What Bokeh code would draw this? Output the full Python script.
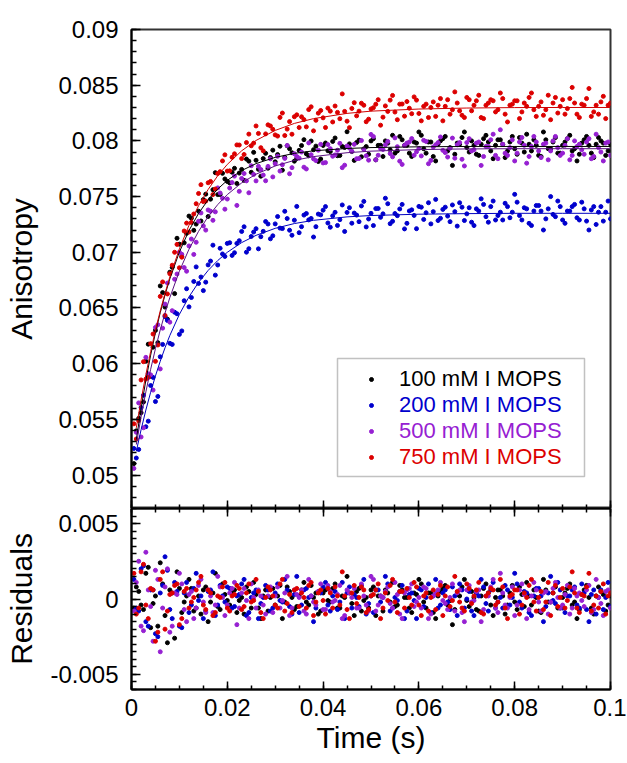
from bokeh.plotting import figure
from bokeh.layouts import column
from bokeh.models import (Range1d, FixedTicker, CustomJSTickFormatter, LinearAxis,
                          Legend, LegendItem, BoxAnnotation)
from bokeh.embed import file_html
from bokeh.resources import INLINE

# ---------------- data ----------------
# samples on whole milliseconds
time_s = [0.001, 0.002, 0.003, 0.004, 0.005, 0.006, 0.007, 0.008, 0.009, 0.010,
          0.011, 0.012, 0.013, 0.014, 0.015, 0.016, 0.017, 0.018, 0.019, 0.020,
          0.021, 0.022, 0.023, 0.024, 0.025, 0.026, 0.027, 0.028, 0.029, 0.030,
          0.031, 0.032, 0.033, 0.034, 0.035, 0.036, 0.037, 0.038, 0.039, 0.040,
          0.041, 0.042, 0.043, 0.044, 0.045, 0.046, 0.047, 0.048, 0.049, 0.050,
          0.051, 0.052, 0.053, 0.054, 0.055, 0.056, 0.057, 0.058, 0.059, 0.060,
          0.061, 0.062, 0.063, 0.064, 0.065, 0.066, 0.067, 0.068, 0.069, 0.070,
          0.071, 0.072, 0.073, 0.074, 0.075, 0.076, 0.077, 0.078, 0.079, 0.080,
          0.081, 0.082, 0.083, 0.084, 0.085, 0.086, 0.087, 0.088, 0.089, 0.090,
          0.091, 0.092, 0.093, 0.094, 0.095, 0.096, 0.097, 0.098, 0.099, 0.100]
# samples on half milliseconds
time_b = [0.0005, 0.0015, 0.0025, 0.0035, 0.0045, 0.0055, 0.0065, 0.0075, 0.0085, 0.0095,
          0.0105, 0.0115, 0.0125, 0.0135, 0.0145, 0.0155, 0.0165, 0.0175, 0.0185, 0.0195,
          0.0205, 0.0215, 0.0225, 0.0235, 0.0245, 0.0255, 0.0265, 0.0275, 0.0285, 0.0295,
          0.0305, 0.0315, 0.0325, 0.0335, 0.0345, 0.0355, 0.0365, 0.0375, 0.0385, 0.0395,
          0.0405, 0.0415, 0.0425, 0.0435, 0.0445, 0.0455, 0.0465, 0.0475, 0.0485, 0.0495,
          0.0505, 0.0515, 0.0525, 0.0535, 0.0545, 0.0555, 0.0565, 0.0575, 0.0585, 0.0595,
          0.0605, 0.0615, 0.0625, 0.0635, 0.0645, 0.0655, 0.0665, 0.0675, 0.0685, 0.0695,
          0.0705, 0.0715, 0.0725, 0.0735, 0.0745, 0.0755, 0.0765, 0.0775, 0.0785, 0.0795,
          0.0805, 0.0815, 0.0825, 0.0835, 0.0845, 0.0855, 0.0865, 0.0875, 0.0885, 0.0895,
          0.0905, 0.0915, 0.0925, 0.0935, 0.0945, 0.0955, 0.0965, 0.0975, 0.0985, 0.0995]

aniso_100 = [0.05397, 0.05560, 0.06022, 0.05887, 0.06299, 0.06698, 0.06508, 0.06821, 0.06629, 0.07073,
             0.07085, 0.07325, 0.07197, 0.07369, 0.07473, 0.07321, 0.07562, 0.07518, 0.07709, 0.07636,
             0.07719, 0.07618, 0.07744, 0.07837, 0.07718, 0.07826, 0.07683, 0.07888, 0.07851, 0.07812,
             0.07952, 0.07852, 0.07930, 0.07818, 0.07915, 0.08011, 0.07866, 0.07921, 0.07815, 0.07959,
             0.07912, 0.07995, 0.07867, 0.07950, 0.08082, 0.07904, 0.07986, 0.07857, 0.07949, 0.08000,
             0.07830, 0.07960, 0.08000, 0.07920, 0.07890, 0.08040, 0.07960, 0.07890, 0.07990, 0.08080,
             0.07930, 0.07990, 0.07860, 0.07970, 0.08020, 0.07910, 0.07780, 0.07980, 0.08030, 0.07940,
             0.08000, 0.07880, 0.07970, 0.08050, 0.07910, 0.07960, 0.08010, 0.07850, 0.07990, 0.07930,
             0.08030, 0.07900, 0.07970, 0.08010, 0.07870, 0.08080, 0.07930, 0.07990, 0.07890, 0.07960,
             0.08020, 0.07910, 0.07820, 0.07980, 0.08040, 0.07890, 0.07970, 0.08000, 0.07870, 0.07970]
aniso_100_b = [0.05103, 0.05509, 0.05656, 0.06175, 0.06148, 0.06189, 0.06638, 0.06400, 0.06865, 0.07126,
               0.06964, 0.07170, 0.07306, 0.07253, 0.07281, 0.07522, 0.07477, 0.07715, 0.07519, 0.07658,
               0.07623, 0.07754, 0.07711, 0.07646, 0.07818, 0.07897, 0.07745, 0.07841, 0.07755, 0.07917,
               0.07877, 0.07737, 0.07956, 0.07894, 0.07842, 0.07958, 0.07884, 0.07999, 0.07953, 0.07837,
               0.07981, 0.07904, 0.08026, 0.07869, 0.07941, 0.07973, 0.07825, 0.08007, 0.07928, 0.07880,
               0.08020, 0.07960, 0.07860, 0.07980, 0.08050, 0.07910, 0.08010, 0.07960, 0.07860, 0.07980,
               0.08050, 0.07890, 0.07990, 0.07820, 0.08000, 0.08040, 0.07940, 0.07880, 0.07970, 0.08080,
               0.07900, 0.07960, 0.07870, 0.08020, 0.07990, 0.07840, 0.08010, 0.07970, 0.07910, 0.08040,
               0.07880, 0.07980, 0.08060, 0.07910, 0.07960, 0.07860, 0.08010, 0.07930, 0.08030, 0.07890,
               0.07990, 0.08050, 0.07930, 0.07880, 0.08010, 0.07960, 0.07850, 0.08030, 0.07980, 0.07910]

aniso_200 = [0.05153, 0.05607, 0.05434, 0.05804, 0.05660, 0.06062, 0.06423, 0.06183, 0.06462, 0.06263,
             0.06565, 0.06510, 0.06738, 0.06720, 0.06656, 0.06887, 0.07064, 0.06886, 0.06985, 0.07080,
             0.06972, 0.07080, 0.07187, 0.07001, 0.07142, 0.07212, 0.07140, 0.07276, 0.07121, 0.07255,
             0.07217, 0.07368, 0.07198, 0.07288, 0.07176, 0.07334, 0.07291, 0.07137, 0.07343, 0.07378,
             0.07263, 0.07327, 0.07241, 0.07425, 0.07358, 0.07261, 0.07334, 0.07416, 0.07228, 0.07350,
             0.07392, 0.07314, 0.07485, 0.07257, 0.07348, 0.07389, 0.07210, 0.07371, 0.07331, 0.07412,
             0.07295, 0.07445, 0.07365, 0.07285, 0.07385, 0.07325, 0.07425, 0.07235, 0.07405, 0.07345,
             0.07270, 0.07390, 0.07480, 0.07320, 0.07410, 0.07290, 0.07360, 0.07440, 0.07310, 0.07520,
             0.07330, 0.07400, 0.07260, 0.07370, 0.07420, 0.07200, 0.07390, 0.07340, 0.07460, 0.07290,
             0.07370, 0.07410, 0.07310, 0.07450, 0.07280, 0.07380, 0.07250, 0.07410, 0.07360, 0.07300]
aniso_200_b = [0.05239, 0.05230, 0.05716, 0.05484, 0.05877, 0.05706, 0.06173, 0.06388, 0.06173, 0.06448,
               0.06294, 0.06673, 0.06594, 0.06869, 0.06778, 0.06732, 0.06921, 0.06795, 0.07036, 0.06963,
               0.07086, 0.06996, 0.07104, 0.07229, 0.07032, 0.07182, 0.07031, 0.07188, 0.07254, 0.07148,
               0.07321, 0.07213, 0.07303, 0.07153, 0.07412, 0.07230, 0.07348, 0.07304, 0.07230, 0.07336,
               0.07410, 0.07225, 0.07359, 0.07293, 0.07187, 0.07400, 0.07352, 0.07275, 0.07457, 0.07299,
               0.07240, 0.07393, 0.07345, 0.07436, 0.07278, 0.07329, 0.07430, 0.07260, 0.07381, 0.07212,
               0.07405, 0.07355, 0.07255, 0.07475, 0.07305, 0.07405, 0.07275, 0.07365, 0.07445, 0.07285,
               0.07400, 0.07240, 0.07370, 0.07430, 0.07270, 0.07460, 0.07330, 0.07290, 0.07410, 0.07360,
               0.07450, 0.07290, 0.07390, 0.07240, 0.07420, 0.07370, 0.07300, 0.07500, 0.07320, 0.07410,
               0.07260, 0.07370, 0.07430, 0.07290, 0.07390, 0.07200, 0.07410, 0.07360, 0.07280, 0.07460]

aniso_500 = [0.05384, 0.05342, 0.06057, 0.05900, 0.06325, 0.05953, 0.06535, 0.06373, 0.06758, 0.07001,
             0.06863, 0.07057, 0.06981, 0.07278, 0.07237, 0.07380, 0.07287, 0.07578, 0.07485, 0.07478,
             0.07626, 0.07421, 0.07663, 0.07641, 0.07777, 0.07641, 0.07743, 0.07642, 0.07839, 0.07795,
             0.07729, 0.07843, 0.07705, 0.07885, 0.07845, 0.07764, 0.07982, 0.07839, 0.07916, 0.07802,
             0.07967, 0.07862, 0.07916, 0.07760, 0.07954, 0.07907, 0.07840, 0.08003, 0.07866, 0.08058,
             0.07830, 0.07932, 0.07964, 0.07886, 0.08027, 0.07818, 0.07959, 0.07990, 0.07871, 0.07932,
             0.08005, 0.07795, 0.07945, 0.07985, 0.07915, 0.07855, 0.08025, 0.07965, 0.07835, 0.07985,
             0.07910, 0.07980, 0.07780, 0.07950, 0.08010, 0.07870, 0.08100, 0.07890, 0.07940, 0.07820,
             0.07990, 0.07960, 0.07860, 0.08040, 0.07910, 0.07970, 0.07830, 0.08000, 0.07940, 0.07890,
             0.08020, 0.07870, 0.07950, 0.07920, 0.07990, 0.07840, 0.08060, 0.07900, 0.07980, 0.07870]
aniso_500_b = [0.05060, 0.05648, 0.05425, 0.05909, 0.05763, 0.06349, 0.06319, 0.06724, 0.06476, 0.06805,
               0.06982, 0.06830, 0.07119, 0.07090, 0.07353, 0.07199, 0.07369, 0.07363, 0.07532, 0.07387,
               0.07577, 0.07684, 0.07547, 0.07707, 0.07534, 0.07699, 0.07772, 0.07693, 0.07771, 0.07677,
               0.07862, 0.07786, 0.07959, 0.07760, 0.07860, 0.07900, 0.07748, 0.07876, 0.07823, 0.07969,
               0.07805, 0.07930, 0.07874, 0.07978, 0.07782, 0.07936, 0.07969, 0.07842, 0.07925, 0.07827,
               0.08039, 0.07871, 0.07923, 0.07995, 0.07857, 0.07948, 0.07789, 0.07980, 0.08021, 0.07902,
               0.07865, 0.07995, 0.07825, 0.07965, 0.08035, 0.07895, 0.07935, 0.07845, 0.07985, 0.07775,
               0.08020, 0.07920, 0.07990, 0.07860, 0.07950, 0.08060, 0.07840, 0.07970, 0.07870, 0.08010,
               0.07890, 0.08030, 0.07800, 0.07950, 0.07990, 0.07850, 0.07980, 0.07910, 0.08040, 0.07870,
               0.07960, 0.07830, 0.08000, 0.07970, 0.07880, 0.08020, 0.07860, 0.07940, 0.07820, 0.07990]

aniso_750 = [0.05324, 0.05854, 0.05862, 0.06180, 0.06021, 0.06604, 0.06433, 0.06808, 0.07000, 0.06861,
             0.07191, 0.07182, 0.07344, 0.07528, 0.07455, 0.07624, 0.07518, 0.07707, 0.07820, 0.07729,
             0.07853, 0.07964, 0.07841, 0.07985, 0.07956, 0.08134, 0.07939, 0.08063, 0.08134, 0.08054,
             0.08211, 0.08048, 0.08173, 0.08217, 0.08120, 0.08191, 0.08281, 0.08090, 0.08249, 0.08207,
             0.08294, 0.08170, 0.08256, 0.08422, 0.08177, 0.08291, 0.08225, 0.08338, 0.08172, 0.08287,
             0.08329, 0.08141, 0.08314, 0.08366, 0.08259, 0.08330, 0.08222, 0.08293, 0.08395, 0.08246,
             0.08310, 0.08210, 0.08350, 0.08320, 0.08180, 0.08370, 0.08280, 0.08340, 0.08230, 0.08390,
             0.08270, 0.08360, 0.08210, 0.08320, 0.08370, 0.08260, 0.08430, 0.08240, 0.08320, 0.08360,
             0.08200, 0.08340, 0.08390, 0.08280, 0.08310, 0.08230, 0.08410, 0.08340, 0.08250, 0.08370,
             0.08290, 0.08480, 0.08240, 0.08330, 0.08380, 0.08220, 0.08320, 0.08350, 0.08200, 0.08340]
aniso_750_b = [0.05460, 0.05489, 0.06018, 0.05876, 0.06266, 0.06168, 0.06734, 0.06626, 0.06884, 0.07071,
               0.06956, 0.07262, 0.07268, 0.07436, 0.07607, 0.07460, 0.07636, 0.07568, 0.07724, 0.07875,
               0.07731, 0.07884, 0.07963, 0.07878, 0.08061, 0.07980, 0.08067, 0.07911, 0.08144, 0.08104,
               0.08043, 0.08250, 0.08106, 0.08060, 0.08234, 0.08216, 0.08126, 0.08306, 0.08185, 0.08273,
               0.08120, 0.08267, 0.08313, 0.08199, 0.08265, 0.08119, 0.08343, 0.08267, 0.08320, 0.08195,
               0.08298, 0.08370, 0.08213, 0.08265, 0.08408, 0.08190, 0.08331, 0.08353, 0.08244, 0.08366,
               0.08180, 0.08330, 0.08300, 0.08220, 0.08380, 0.08310, 0.08240, 0.08440, 0.08270, 0.08210,
               0.08370, 0.08320, 0.08410, 0.08200, 0.08340, 0.08360, 0.08280, 0.08380, 0.08170, 0.08330,
               0.08360, 0.08260, 0.08310, 0.08430, 0.08220, 0.08350, 0.08280, 0.08190, 0.08390, 0.08310,
               0.08240, 0.08380, 0.08340, 0.08210, 0.08320, 0.08470, 0.08260, 0.08240, 0.08400, 0.08320]

fit_time = [0.001, 0.002, 0.003, 0.004, 0.005, 0.006, 0.007, 0.008, 0.010, 0.012, 0.014, 0.016, 0.018,
            0.020, 0.023, 0.026, 0.030, 0.034, 0.038, 0.045, 0.050, 0.060, 0.070, 0.080, 0.090, 0.100]
fit_100 = [0.05317, 0.05600, 0.05852, 0.06077, 0.06279, 0.06458, 0.06618, 0.06761, 0.07003, 0.07195,
           0.07349, 0.07471, 0.07568, 0.07646, 0.07734, 0.07796, 0.07852, 0.07888, 0.07911, 0.07932,
           0.07940, 0.07947, 0.07950, 0.07950, 0.07950, 0.07950]
fit_200 = [0.05213, 0.05407, 0.05584, 0.05744, 0.05890, 0.06022, 0.06143, 0.06253, 0.06443, 0.06600,
           0.06730, 0.06837, 0.06926, 0.07000, 0.07087, 0.07152, 0.07215, 0.07258, 0.07287, 0.07318,
           0.07330, 0.07342, 0.07347, 0.07350, 0.07350, 0.07350]
fit_500 = [0.05274, 0.05522, 0.05747, 0.05950, 0.06135, 0.06303, 0.06455, 0.06593, 0.06831, 0.07027,
           0.07188, 0.07320, 0.07428, 0.07518, 0.07623, 0.07701, 0.07775, 0.07825, 0.07859, 0.07894,
           0.07908, 0.07922, 0.07928, 0.07930, 0.07930, 0.07930]
fit_750 = [0.05424, 0.05674, 0.05902, 0.06110, 0.06301, 0.06474, 0.06633, 0.06778, 0.07031, 0.07242,
           0.07418, 0.07564, 0.07687, 0.07789, 0.07911, 0.08004, 0.08094, 0.08157, 0.08200, 0.08247,
           0.08267, 0.08286, 0.08295, 0.08299, 0.08300, 0.08300]

resid_100 = [0.0008, -0.0004, 0.0017, -0.0019, 0.0002, 0.0024, -0.0011, 0.0006, -0.0026, 0.0007,
             -0.0002, 0.0013, -0.0008, 0.0002, 0.0006, -0.0015, 0.0004, -0.0005, 0.0010, -0.0001,
             0.0004, -0.0009, 0.0001, 0.0008, -0.0006, 0.0003, -0.0013, 0.0006, 0.0001, -0.0004,
             0.0009, -0.0002, 0.0005, -0.0007, 0.0002, 0.0011, -0.0004, 0.0001, -0.0010, 0.0004,
             -0.0001, 0.0007, -0.0006, 0.0002, 0.0015, -0.0003, 0.0005, -0.0008, 0.0001, 0.0006,
             -0.0011, 0.0002, 0.0006, -0.0002, -0.0005, 0.0009, 0.0001, -0.0006, 0.0004, 0.0013,
             -0.0002, 0.0004, -0.0009, 0.0002, 0.0007, -0.0004, -0.0017, 0.0003, 0.0008, -0.0001,
             0.0005, -0.0007, 0.0002, 0.0010, -0.0004, 0.0001, 0.0006, -0.0010, 0.0004, -0.0002,
             0.0008, -0.0005, 0.0002, 0.0006, -0.0008, 0.0013, -0.0002, 0.0004, -0.0006, 0.0001,
             0.0007, -0.0004, -0.0013, 0.0003, 0.0009, -0.0006, 0.0002, 0.0005, -0.0008, 0.0002]
resid_100_b = [-0.0006, 0.0005, -0.0007, 0.0021, -0.0003, -0.0018, 0.0010, -0.0029, 0.0004, 0.0018,
               -0.0009, 0.0002, 0.0007, -0.0006, -0.0010, 0.0008, -0.0002, 0.0017, -0.0007, 0.0003,
               -0.0004, 0.0006, -0.0001, -0.0010, 0.0005, 0.0011, -0.0006, 0.0002, -0.0008, 0.0007,
               0.0002, -0.0013, 0.0008, 0.0001, -0.0005, 0.0006, -0.0002, 0.0009, 0.0004, -0.0008,
               0.0006, -0.0002, 0.0010, -0.0006, 0.0001, 0.0004, -0.0011, 0.0007, -0.0001, -0.0006,
               0.0008, 0.0002, -0.0008, 0.0004, 0.0011, -0.0004, 0.0006, 0.0001, -0.0009, 0.0003,
               0.0010, -0.0006, 0.0004, -0.0013, 0.0005, 0.0009, -0.0001, -0.0007, 0.0002, 0.0013,
               -0.0005, 0.0001, -0.0008, 0.0007, 0.0004, -0.0011, 0.0006, 0.0002, -0.0004, 0.0009,
               -0.0007, 0.0003, 0.0011, -0.0004, 0.0001, -0.0009, 0.0006, -0.0002, 0.0008, -0.0006,
               0.0004, 0.0010, -0.0002, -0.0007, 0.0006, 0.0001, -0.0010, 0.0008, 0.0003, -0.0004]
resid_200 = [-0.0006, 0.0020, -0.0015, 0.0006, -0.0023, 0.0004, 0.0028, -0.0007, 0.0011, -0.0018,
             0.0004, -0.0009, 0.0007, -0.0001, -0.0013, 0.0005, 0.0018, -0.0004, 0.0002, 0.0008,
             -0.0006, 0.0002, 0.0010, -0.0011, 0.0001, 0.0006, -0.0003, 0.0009, -0.0008, 0.0004,
             -0.0001, 0.0013, -0.0005, 0.0003, -0.0009, 0.0006, 0.0001, -0.0015, 0.0005, 0.0008,
             -0.0004, 0.0002, -0.0007, 0.0011, 0.0004, -0.0006, 0.0001, 0.0009, -0.0010, 0.0002,
             0.0006, -0.0002, 0.0015, -0.0008, 0.0001, 0.0005, -0.0013, 0.0003, -0.0001, 0.0007,
             -0.0005, 0.0010, 0.0002, -0.0006, 0.0004, -0.0002, 0.0008, -0.0011, 0.0006, 0.0000,
             -0.0008, 0.0004, 0.0013, -0.0003, 0.0006, -0.0006, 0.0001, 0.0009, -0.0004, 0.0017,
             -0.0002, 0.0005, -0.0009, 0.0002, 0.0007, -0.0015, 0.0004, -0.0001, 0.0011, -0.0006,
             0.0002, 0.0006, -0.0004, 0.0010, -0.0007, 0.0003, -0.0010, 0.0006, 0.0001, -0.0005]
resid_200_b = [0.0013, -0.0008, 0.0022, -0.0018, 0.0006, -0.0025, 0.0009, 0.0019, -0.0013, 0.0005,
               -0.0019, 0.0011, -0.0004, 0.0017, 0.0002, -0.0008, 0.0006, -0.0011, 0.0009, -0.0002,
               0.0007, -0.0005, 0.0003, 0.0013, -0.0009, 0.0004, -0.0013, 0.0001, 0.0006, -0.0006,
               0.0010, -0.0002, 0.0006, -0.0010, 0.0015, -0.0004, 0.0007, 0.0002, -0.0006, 0.0004,
               0.0011, -0.0008, 0.0005, -0.0002, -0.0013, 0.0008, 0.0003, -0.0005, 0.0013, -0.0003,
               -0.0009, 0.0006, 0.0001, 0.0010, -0.0006, -0.0001, 0.0009, -0.0008, 0.0004, -0.0013,
               0.0006, 0.0001, -0.0009, 0.0013, -0.0004, 0.0006, -0.0007, 0.0002, 0.0010, -0.0006,
               0.0005, -0.0011, 0.0002, 0.0008, -0.0008, 0.0011, -0.0002, -0.0006, 0.0006, 0.0001,
               0.0010, -0.0006, 0.0004, -0.0011, 0.0007, 0.0002, -0.0005, 0.0015, -0.0003, 0.0006,
               -0.0009, 0.0002, 0.0008, -0.0006, 0.0004, -0.0015, 0.0006, 0.0001, -0.0007, 0.0011]
resid_500 = [0.0011, -0.0018, 0.0031, -0.0005, 0.0019, -0.0035, 0.0008, -0.0022, 0.0004, 0.0017,
             -0.0007, 0.0003, -0.0013, 0.0009, -0.0002, 0.0006, -0.0009, 0.0015, 0.0001, -0.0004,
             0.0007, -0.0017, 0.0004, -0.0001, 0.0010, -0.0006, 0.0002, -0.0010, 0.0008, 0.0002,
             -0.0006, 0.0004, -0.0011, 0.0006, 0.0001, -0.0008, 0.0013, -0.0002, 0.0005, -0.0007,
             0.0009, -0.0002, 0.0003, -0.0013, 0.0006, 0.0001, -0.0006, 0.0010, -0.0004, 0.0015,
             -0.0008, 0.0002, 0.0005, -0.0003, 0.0011, -0.0010, 0.0004, 0.0007, -0.0005, 0.0001,
             0.0008, -0.0013, 0.0002, 0.0006, -0.0001, -0.0007, 0.0010, 0.0004, -0.0009, 0.0006,
             -0.0002, 0.0005, -0.0015, 0.0002, 0.0008, -0.0006, 0.0017, -0.0004, 0.0001, -0.0011,
             0.0006, 0.0003, -0.0007, 0.0011, -0.0002, 0.0004, -0.0010, 0.0007, 0.0001, -0.0004,
             0.0009, -0.0006, 0.0002, -0.0001, 0.0006, -0.0009, 0.0013, -0.0003, 0.0005, -0.0006]
resid_500_b = [-0.0008, 0.0025, -0.0021, 0.0006, -0.0028, 0.0013, -0.0006, 0.0020, -0.0018, 0.0003,
               0.0010, -0.0015, 0.0005, -0.0006, 0.0013, -0.0009, 0.0002, -0.0004, 0.0008, -0.0011,
               0.0004, 0.0011, -0.0006, 0.0007, -0.0013, 0.0001, 0.0006, -0.0004, 0.0002, -0.0009,
               0.0008, -0.0001, 0.0015, -0.0006, 0.0003, 0.0006, -0.0010, 0.0002, -0.0004, 0.0010,
               -0.0007, 0.0005, -0.0001, 0.0009, -0.0011, 0.0004, 0.0007, -0.0006, 0.0002, -0.0008,
               0.0013, -0.0004, 0.0001, 0.0008, -0.0006, 0.0003, -0.0013, 0.0006, 0.0010, -0.0002,
               -0.0006, 0.0007, -0.0010, 0.0004, 0.0011, -0.0003, 0.0001, -0.0008, 0.0006, -0.0015,
               0.0009, -0.0001, 0.0006, -0.0007, 0.0002, 0.0013, -0.0009, 0.0004, -0.0006, 0.0008,
               -0.0004, 0.0010, -0.0013, 0.0002, 0.0006, -0.0008, 0.0005, -0.0002, 0.0011, -0.0006,
               0.0003, -0.0010, 0.0007, 0.0004, -0.0005, 0.0009, -0.0007, 0.0001, -0.0011, 0.0006]
resid_750 = [-0.0010, 0.0018, -0.0004, 0.0007, -0.0028, 0.0013, -0.0020, 0.0003, 0.0009, -0.0017,
             0.0005, -0.0006, 0.0001, 0.0011, -0.0004, 0.0006, -0.0011, 0.0002, 0.0008, -0.0006,
             0.0002, 0.0009, -0.0007, 0.0004, -0.0002, 0.0013, -0.0009, 0.0001, 0.0006, -0.0004,
             0.0010, -0.0008, 0.0003, 0.0006, -0.0005, 0.0001, 0.0009, -0.0011, 0.0004, -0.0001,
             0.0007, -0.0006, 0.0002, 0.0018, -0.0007, 0.0004, -0.0003, 0.0008, -0.0009, 0.0002,
             0.0006, -0.0013, 0.0004, 0.0009, -0.0002, 0.0005, -0.0006, 0.0001, 0.0011, -0.0004,
             0.0002, -0.0008, 0.0006, 0.0003, -0.0011, 0.0008, -0.0001, 0.0005, -0.0006, 0.0010,
             -0.0003, 0.0006, -0.0009, 0.0002, 0.0007, -0.0004, 0.0013, -0.0006, 0.0002, 0.0006,
             -0.0010, 0.0004, 0.0009, -0.0002, 0.0001, -0.0007, 0.0011, 0.0004, -0.0005, 0.0007,
             -0.0001, 0.0018, -0.0006, 0.0003, 0.0008, -0.0008, 0.0002, 0.0005, -0.0010, 0.0004]
resid_750_b = [0.0017, -0.0006, 0.0023, -0.0013, 0.0006, -0.0022, 0.0018, -0.0008, 0.0004, 0.0010,
               -0.0013, 0.0007, -0.0002, 0.0006, 0.0015, -0.0007, 0.0004, -0.0009, 0.0001, 0.0011,
               -0.0008, 0.0003, 0.0007, -0.0005, 0.0010, -0.0001, 0.0005, -0.0013, 0.0008, 0.0002,
               -0.0006, 0.0013, -0.0003, -0.0009, 0.0007, 0.0004, -0.0006, 0.0011, -0.0002, 0.0006,
               -0.0010, 0.0004, 0.0008, -0.0004, 0.0002, -0.0013, 0.0009, 0.0001, 0.0006, -0.0007,
               0.0003, 0.0010, -0.0006, -0.0001, 0.0013, -0.0009, 0.0005, 0.0007, -0.0004, 0.0008,
               -0.0011, 0.0004, 0.0001, -0.0007, 0.0009, 0.0002, -0.0005, 0.0015, -0.0002, -0.0008,
               0.0007, 0.0002, 0.0011, -0.0010, 0.0004, 0.0006, -0.0002, 0.0008, -0.0013, 0.0003,
               0.0006, -0.0004, 0.0001, 0.0013, -0.0008, 0.0005, -0.0002, -0.0011, 0.0009, 0.0001,
               -0.0006, 0.0008, 0.0004, -0.0009, 0.0002, 0.0017, -0.0004, -0.0006, 0.0010, 0.0002]

series_labels = ["100 mM I MOPS", "200 mM I MOPS", "500 mM I MOPS", "750 mM I MOPS"]
series_colors = ["#000000", "#0000cd", "#9620d2", "#dc0000"]
fit_colors = ["#000000", "#0000c0", "#5a1080", "#d00000"]

x_major = [0, 0.02, 0.04, 0.06, 0.08, 0.1]
top_y_major = [0.05, 0.055, 0.06, 0.065, 0.07, 0.075, 0.08, 0.085, 0.09]
res_y_major = [-0.005, 0, 0.005]

# ---------------- styling ----------------
FONT = "Liberation Sans"
x_minor = [i * 0.005 for i in range(21)]
top_y_minor = [0.047 + i * 0.001 for i in range(44)]
res_y_minor = [-0.006 + i * 0.0005 for i in range(25)]

label_fmt = CustomJSTickFormatter(code="return parseFloat(tick.toFixed(4)).toString();")
blank_fmt = CustomJSTickFormatter(code="return '';")

x_range = Range1d(0, 0.1)


def style_axis(ax, major, minor, tin, min_in, labels=True, standoff=12):
    ax.ticker = FixedTicker(ticks=major, minor_ticks=minor)
    ax.major_tick_in = tin
    ax.major_tick_out = 0
    ax.minor_tick_in = min_in
    ax.minor_tick_out = 0
    ax.major_tick_line_color = "black"
    ax.minor_tick_line_color = "black"
    ax.major_tick_line_width = 1.5
    ax.minor_tick_line_width = 1.5
    ax.axis_line_color = "black"
    ax.axis_line_width = 2
    ax.major_label_text_font = FONT
    ax.major_label_text_color = "black"
    ax.axis_label_text_font = FONT
    ax.axis_label_text_font_style = "normal"
    ax.axis_label_text_color = "black"
    ax.axis_label_text_font_size = "30px"
    if labels:
        ax.formatter = label_fmt
        ax.major_label_text_font_size = "24px"
        ax.major_label_standoff = standoff
    else:
        ax.formatter = blank_fmt
        ax.major_label_text_font_size = "1px"
        ax.major_label_standoff = 0


top = figure(frame_width=479, frame_height=479, x_range=x_range, y_range=Range1d(0.047, 0.09),
             output_backend="svg", toolbar_location=None,
             min_border_left=131, min_border_right=16, min_border_top=29, min_border_bottom=0)
bot = figure(frame_width=479, frame_height=181, x_range=x_range, y_range=Range1d(-0.006, 0.006),
             output_backend="svg", toolbar_location=None,
             min_border_left=131, min_border_right=16, min_border_top=0, min_border_bottom=0)

for p in (top, bot):
    p.grid.visible = False
    p.outline_line_color = "#333333"
    p.outline_line_width = 2
    p.background_fill_color = "white"
    p.border_fill_color = "white"

# top panel axes
style_axis(top.xaxis[0], x_major, x_minor, 8, 4, labels=False)
style_axis(top.yaxis[0], top_y_major, top_y_minor, 9, 5, standoff=13)
top.yaxis[0].axis_label = "Anisotropy"
top.yaxis[0].axis_label_standoff = 17

# bottom panel axes
style_axis(bot.xaxis[0], x_major, x_minor, 8, 4, standoff=9)
bot.xaxis[0].axis_label = "Time (s)"
bot.xaxis[0].axis_label_standoff = 2
style_axis(bot.yaxis[0], res_y_major, res_y_minor, 9, 5, standoff=13)
bot.yaxis[0].axis_label = "Residuals"
bot.yaxis[0].axis_label_standoff = 9
top_axis = LinearAxis()
style_axis(top_axis, x_major, x_minor, 8, 4, labels=False)
bot.add_layout(top_axis, "above")

# ---------------- marks ----------------
aniso = [aniso_100 + aniso_100_b, aniso_200 + aniso_200_b,
         aniso_500 + aniso_500_b, aniso_750 + aniso_750_b]
fits = [fit_100, fit_200, fit_500, fit_750]
resids = [resid_100 + resid_100_b, resid_200 + resid_200_b,
          resid_500 + resid_500_b, resid_750 + resid_750_b]
all_time = time_s + time_b

scat = []
for ys, col in zip(aniso, series_colors):
    r = top.scatter(all_time, ys, size=4, marker="circle", fill_color=col, line_color=col)
    scat.append(r)
for ys, col in zip(fits, fit_colors):
    top.line(fit_time, ys, line_color=col, line_width=1)
for ys, col in zip(resids, series_colors):
    bot.scatter(all_time, ys, size=4, marker="circle", fill_color=col, line_color=col)

# ---------------- legend ----------------
legend_y = [116, 90, 64, 38]
for lab, col, r, ly in zip(series_labels, series_colors, scat, legend_y):
    leg = Legend(items=[LegendItem(label=lab, renderers=[r])], location=(235, ly),
                 border_line_color=None, background_fill_alpha=0,
                 label_text_color=col, label_text_font=FONT, label_text_font_size="22px",
                 glyph_width=10, glyph_height=10, label_standoff=23,
                 padding=0, margin=0, spacing=0)
    top.add_layout(leg)

box = BoxAnnotation(left=206, right=453, bottom=32, top=150,
                    left_units="screen", right_units="screen",
                    top_units="screen", bottom_units="screen",
                    fill_color=None, fill_alpha=0, line_color="#333333", line_width=1.5)
top.add_layout(box)

layout = column(top, bot, spacing=0)
open("out.html", "w").write(file_html(layout, INLINE))
